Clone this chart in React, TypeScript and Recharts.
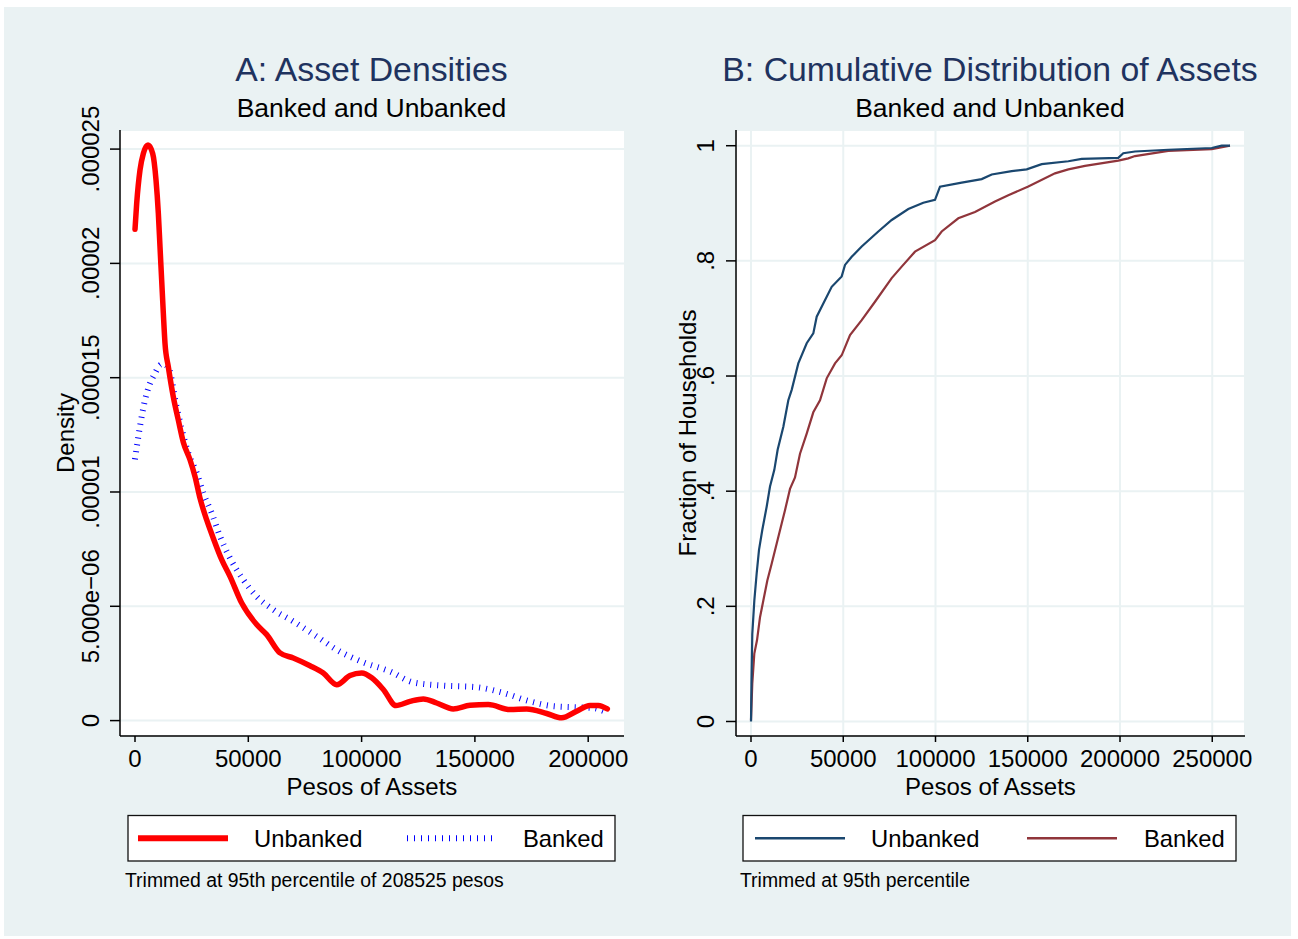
import { LineChart, Line, XAxis, YAxis, CartesianGrid } from "recharts";

const FONT = '"Liberation Sans", Arial, Helvetica, sans-serif';
const BG = "#EAF2F3";
const TITLE_COLOR = "#1F335F";

// ---- data ----
const densityXTicks = [0, 50000, 100000, 150000, 200000];
const densityYTicks = [0, 0.000005, 0.00001, 0.000015, 0.00002, 0.000025];
const densityYLabels = ["0", "5.000e\u221206", ".00001", ".000015", ".00002", ".000025"];

const cdfXTicks = [0, 50000, 100000, 150000, 200000, 250000];
const cdfYTicks = [0, 0.2, 0.4, 0.6, 0.8, 1];
const cdfYLabels = ["0", ".2", ".4", ".6", ".8", "1"];

// [pesos, density]
const unbankedDensity: [number, number][] = [
  [0, 2.149e-5], [750, 2.263e-5], [2200, 2.408e-5], [3680, 2.481e-5], [5740, 2.518e-5],
  [7800, 2.481e-5], [9270, 2.365e-5], [10300, 2.219e-5], [11030, 2.073e-5], [11770, 1.927e-5],
  [12500, 1.782e-5], [13240, 1.65e-5], [14700, 1.548e-5], [16900, 1.417e-5], [19110, 1.315e-5],
  [21320, 1.218e-5], [24270, 1.141e-5], [26480, 1.068e-5], [28680, 9.73e-6], [31640, 8.78e-6],
  [34550, 7.98e-6], [38260, 7.04e-6], [41920, 6.31e-6], [47090, 5.14e-6], [53700, 4.2e-6],
  [58120, 3.76e-6], [63990, 2.96e-6], [69860, 2.74e-6], [77230, 2.4e-6], [83100, 2.08e-6],
  [89010, 1.57e-6], [94880, 1.97e-6], [100050, 2.08e-6], [104460, 1.87e-6], [109580, 1.36e-6],
  [115180, 6.6e-7], [121360, 8.4e-7], [127230, 9.5e-7], [133140, 7.7e-7], [140470, 5.1e-7],
  [147840, 6.7e-7], [155910, 7.0e-7], [165490, 4.8e-7], [172850, 5.1e-7], [181680, 3.1e-7],
  [188300, 1.2e-7], [194920, 4.1e-7], [200790, 6.6e-7], [204460, 6.6e-7], [208430, 5.1e-7],
];

const bankedDensity: [number, number][] = [
  [0, 1.143e-5], [1470, 1.242e-5], [2940, 1.329e-5], [4410, 1.402e-5], [6620, 1.475e-5],
  [8830, 1.519e-5], [11030, 1.555e-5], [12400, 1.56e-5], [14700, 1.545e-5], [18400, 1.37e-5],
  [23520, 1.17e-5], [27230, 1.083e-5], [30140, 9.95e-6], [33850, 9.08e-6], [37510, 8.06e-6],
  [41920, 7.11e-6], [47790, 6.16e-6], [53700, 5.43e-6], [61030, 4.85e-6], [69860, 4.34e-6],
  [80180, 3.68e-6], [89010, 3.1e-6], [100750, 2.55e-6], [112530, 2.15e-6], [122820, 1.67e-6],
  [136060, 1.53e-6], [150800, 1.46e-6], [162540, 1.21e-6], [174320, 8.4e-7], [184600, 6.3e-7],
  [194920, 5.8e-7], [202260, 5.5e-7], [206970, 4.1e-7],
];

// [pesos, fraction of households]
const unbankedCdf: [number, number][] = [
  [0, 0], [250, 0.065], [700, 0.152], [1800, 0.21], [3070, 0.257], [4340, 0.298], [6140, 0.333],
  [8490, 0.373], [10300, 0.408], [12640, 0.437], [14440, 0.472], [17530, 0.512], [20230, 0.558],
  [22060, 0.576], [25640, 0.622], [30190, 0.657], [33770, 0.674], [35610, 0.703], [39190, 0.726],
  [43740, 0.755], [49160, 0.773], [50950, 0.793], [54580, 0.807], [60000, 0.825], [69000, 0.851],
  [76260, 0.871], [85260, 0.89], [93390, 0.901], [99730, 0.906], [102440, 0.929], [114200, 0.936],
  [125040, 0.942], [130460, 0.95], [141300, 0.956], [149430, 0.959], [157560, 0.968], [171990, 0.973],
  [179230, 0.977], [199070, 0.979], [201780, 0.987], [208130, 0.99], [226180, 0.993], [249700, 0.996],
  [255120, 1.0], [259620, 1.0],
];

const bankedCdf: [number, number][] = [
  [0, 0.002], [700, 0.066], [1800, 0.118], [3250, 0.141], [4880, 0.181], [6690, 0.21], [8850, 0.245],
  [11200, 0.274], [13930, 0.309], [16630, 0.344], [18430, 0.367], [21140, 0.404], [23850, 0.424],
  [26560, 0.465], [30190, 0.5], [33770, 0.537], [37400, 0.558], [41030, 0.596], [45540, 0.622],
  [49160, 0.636], [53670, 0.671], [60000, 0.697], [67210, 0.729], [76260, 0.77], [81680, 0.79],
  [88890, 0.816], [99730, 0.836], [103350, 0.851], [112360, 0.874], [121410, 0.885], [132250, 0.903],
  [139460, 0.914], [150300, 0.929], [164770, 0.952], [171990, 0.959], [181030, 0.965], [199070, 0.974],
  [204490, 0.978], [208130, 0.982], [226180, 0.991], [249700, 0.994], [259620, 1.0],
];

const toPoints = (pairs: [number, number][]) => pairs.map(([x, y]) => ({ x, y }));

const axisStyle = { stroke: "#000", strokeWidth: 1.5 };
const tickFont = { fontSize: 24, fill: "#000", fontFamily: FONT };

function rotatedTick(ticks: number[], labels: string[], shift: number) {
  return (props: any) => {
    const { x, y, payload } = props;
    const i = ticks.findIndex((t) => Math.abs(t - payload.value) < 1e-12);
    return (
      <text
        transform={`translate(${x - shift},${y}) rotate(-90)`}
        textAnchor="middle"
        fontSize={24}
        fontFamily={FONT}
        fill="#000"
      >
        {i >= 0 ? labels[i] : String(payload.value)}
      </text>
    );
  };
}

function DensityPanel() {
  return (
    <div style={{ position: "absolute", left: 20, top: 80 }}>
      <LineChart width={630} height={696} margin={{ top: 50, right: 26, bottom: 0, left: 0 }}>
        <CartesianGrid fill="#fff" stroke={BG} strokeWidth={2} vertical={false} />
        <XAxis
          type="number"
          dataKey="x"
          domain={[-6620, 215800]}
          allowDataOverflow
          ticks={densityXTicks}
          interval={0}
          height={40}
          tickSize={6}
          tickMargin={8}
          tick={tickFont}
          axisLine={axisStyle}
          tickLine={axisStyle}
        />
        <YAxis
          type="number"
          dataKey="y"
          domain={[-6.74e-7, 2.5835e-5]}
          allowDataOverflow
          ticks={densityYTicks}
          interval={0}
          width={100}
          tickSize={10}
          tickMargin={0}
          tick={rotatedTick(densityYTicks, densityYLabels, 11)}
          axisLine={axisStyle}
          tickLine={axisStyle}
        />
        <Line
          data={toPoints(bankedDensity)}
          dataKey="y"
          type="monotone"
          stroke="#0000FF"
          strokeWidth={6}
          strokeDasharray="1 6"
          dot={false}
          isAnimationActive={false}
        />
        <Line
          data={toPoints(unbankedDensity)}
          dataKey="y"
          type="monotone"
          stroke="#FF0000"
          strokeWidth={5.5}
          strokeLinecap="round"
          strokeLinejoin="round"
          dot={false}
          isAnimationActive={false}
        />
      </LineChart>
    </div>
  );
}

function CdfPanel() {
  return (
    <div style={{ position: "absolute", left: 640, top: 80 }}>
      <LineChart width={625} height={696} margin={{ top: 50, right: 20, bottom: 0, left: 0 }}>
        <CartesianGrid fill="#fff" stroke={BG} strokeWidth={2} />
        <XAxis
          type="number"
          dataKey="x"
          domain={[-8130, 267750]}
          allowDataOverflow
          ticks={cdfXTicks}
          interval={0}
          height={40}
          tickSize={6}
          tickMargin={8}
          tick={tickFont}
          axisLine={axisStyle}
          tickLine={axisStyle}
        />
        <YAxis
          type="number"
          dataKey="y"
          domain={[-0.0252, 1.0273]}
          allowDataOverflow
          ticks={cdfYTicks}
          interval={0}
          width={96}
          tickSize={10}
          tickMargin={0}
          tick={rotatedTick(cdfYTicks, cdfYLabels, 12.5)}
          axisLine={axisStyle}
          tickLine={axisStyle}
        />
        <Line
          data={toPoints(bankedCdf)}
          dataKey="y"
          type="linear"
          stroke="#90353B"
          strokeWidth={2.2}
          dot={false}
          isAnimationActive={false}
        />
        <Line
          data={toPoints(unbankedCdf)}
          dataKey="y"
          type="linear"
          stroke="#1A476F"
          strokeWidth={2.2}
          dot={false}
          isAnimationActive={false}
        />
      </LineChart>
    </div>
  );
}

function Overlay() {
  const t = { fontFamily: FONT, fill: "#000" };
  return (
    <svg
      width={1298}
      height={939}
      style={{ position: "absolute", left: 0, top: 0, pointerEvents: "none" }}
    >
      {/* titles */}
      <text x={371.5} y={81} textAnchor="middle" fontSize={33.8} fontFamily={FONT} fill={TITLE_COLOR}>
        A: Asset Densities
      </text>
      <text x={371.5} y={117} textAnchor="middle" fontSize={26.5} {...t}>
        Banked and Unbanked
      </text>
      <text x={990} y={81} textAnchor="middle" fontSize={33.8} fontFamily={FONT} fill={TITLE_COLOR}>
        B: Cumulative Distribution of Assets
      </text>
      <text x={990} y={117} textAnchor="middle" fontSize={26.5} {...t}>
        Banked and Unbanked
      </text>

      {/* axis titles */}
      <text x={372} y={795} textAnchor="middle" fontSize={24} {...t}>
        Pesos of Assets
      </text>
      <text x={990.5} y={795} textAnchor="middle" fontSize={24} {...t}>
        Pesos of Assets
      </text>
      <text transform="translate(73.5,433) rotate(-90)" textAnchor="middle" fontSize={24} {...t}>
        Density
      </text>
      <text transform="translate(695.5,433) rotate(-90)" textAnchor="middle" fontSize={24} {...t}>
        Fraction of Households
      </text>

      {/* legend A */}
      <rect x={128} y={815.5} width={487} height={45.5} fill="#fff" stroke="#111" strokeWidth={1.3} />
      <line x1={138} y1={838.3} x2={228} y2={838.3} stroke="#FF0000" strokeWidth={6} />
      <text x={254} y={846.5} fontSize={23.8} {...t}>Unbanked</text>
      <line x1={407} y1={838.3} x2={492} y2={838.3} stroke="#0000FF" strokeWidth={6} strokeDasharray="1 6" />
      <text x={523} y={846.5} fontSize={23.8} {...t}>Banked</text>

      {/* legend B */}
      <rect x={743} y={815.5} width={493} height={45.5} fill="#fff" stroke="#111" strokeWidth={1.3} />
      <line x1={755} y1={838.3} x2={845} y2={838.3} stroke="#1A476F" strokeWidth={2.4} />
      <text x={871} y={846.5} fontSize={23.8} {...t}>Unbanked</text>
      <line x1={1027} y1={838.3} x2={1117} y2={838.3} stroke="#90353B" strokeWidth={2.4} />
      <text x={1144} y={846.5} fontSize={23.8} {...t}>Banked</text>

      {/* notes */}
      <text x={125} y={887.3} fontSize={19.4} {...t}>
        Trimmed at 95th percentile of 208525 pesos
      </text>
      <text x={740} y={887.3} fontSize={19.4} {...t}>
        Trimmed at 95th percentile
      </text>
    </svg>
  );
}

export default function App() {
  return (
    <div
      style={{
        position: "absolute",
        left: 0,
        top: 0,
        width: 1298,
        height: 939,
        background: "#fff",
        fontFamily: FONT,
        overflow: "hidden",
      }}
    >
      <div style={{ position: "absolute", left: 4, top: 7, width: 1287, height: 929, background: BG }} />
      <DensityPanel />
      <CdfPanel />
      <Overlay />
    </div>
  );
}
